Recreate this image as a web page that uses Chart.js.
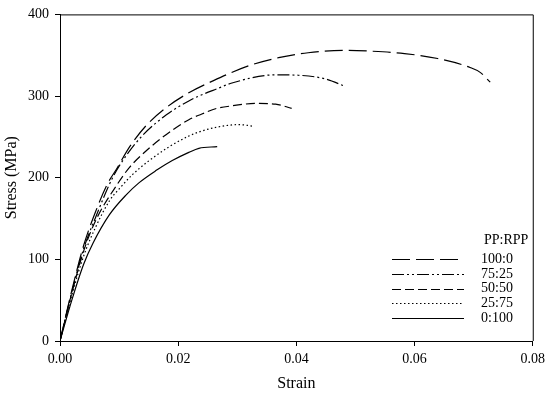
<!DOCTYPE html>
<html>
<head>
<meta charset="utf-8">
<script src="https://cdn.jsdelivr.net/npm/chart.js@4/dist/chart.umd.min.js"></script>
<style>
html,body{margin:0;padding:0;background:#fff;}
#wrap{width:550px;height:397px;position:relative;}
</style>
</head>
<body>
<div id="wrap"><canvas id="c" width="550" height="397"></canvas></div>
<script>
const seriesLabels = ["100:0", "75:25", "50:50", "25:75", "0:100"];
const legendTitle = "PP:RPP";
const xTicks = [0, 0.02, 0.04, 0.06, 0.08];
const yTicks = [0, 100, 200, 300, 400];

const strain100 = [0, 0.002, 0.004, 0.006, 0.008, 0.0096, 0.0118, 0.0146, 0.018, 0.0218, 0.0257, 0.0319, 0.037, 0.042, 0.0487, 0.0526, 0.0583, 0.0639, 0.0694, 0.0711, 0.0728];
const stress100 = [0, 62, 117, 158, 192, 211, 238, 264, 286, 304, 318, 337, 347, 353, 356, 355, 352, 346, 335, 329, 317];

const strain75 = [0, 0.002, 0.004, 0.006, 0.0089, 0.0113, 0.014, 0.018, 0.0218, 0.0235, 0.0266, 0.0291, 0.0365, 0.0403, 0.0449, 0.0482];
const stress75 = [0, 60, 113, 151, 200, 228, 252, 277, 294, 300, 309, 316, 326, 325.5, 321, 312];

const strain50 = [0, 0.002, 0.004, 0.006, 0.0097, 0.0118, 0.0146, 0.018, 0.0218, 0.024, 0.0266, 0.0291, 0.0331, 0.0365, 0.0392];
const stress50 = [0, 59, 110, 147, 192, 213, 233, 253, 271, 278, 285, 288, 291, 290, 285];

const strain25 = [0, 0.002, 0.004, 0.006, 0.0084, 0.0101, 0.0123, 0.0151, 0.0185, 0.0218, 0.0235, 0.0266, 0.0303, 0.0328];
const stress25 = [0, 56, 104, 139, 172, 187, 204, 221, 238, 251, 256, 262, 265, 263];

const strain0 = [0, 0.002, 0.004, 0.0056, 0.0084, 0.0112, 0.0134, 0.0163, 0.019, 0.0218, 0.0235, 0.0266];
const stress0 = [0, 50, 94, 120, 155, 179, 194, 209, 221, 231, 236, 238];

const strains = [strain100, strain75, strain50, strain25, strain0];
const stresses = [stress100, stress75, stress50, stress25, stress0];
const dashes = [[18, 6], [12, 3, 2, 3, 2, 3], [9, 4], [1.5, 2.5], []];

const FONT = "'Liberation Serif', 'Times New Roman', serif";

const datasets = seriesLabels.map((lab, i) => ({
  label: lab,
  data: strains[i].map((s, k) => ({x: s, y: stresses[i][k]})),
  borderColor: '#000',
  borderWidth: 1.2,
  borderDash: dashes[i],
  pointRadius: 0,
  fill: false,
  cubicInterpolationMode: 'monotone'
}));

const framePlugin = {
  id: 'frame',
  afterDatasetsDraw(chart) {
    const ctx = chart.ctx, a = chart.chartArea;
    ctx.save();
    ctx.strokeStyle = '#000';
    ctx.lineWidth = 1;
    ctx.beginPath();
    ctx.moveTo(a.left, a.top + 0.5);
    ctx.lineTo(a.right + 0.5, a.top + 0.5);
    ctx.lineTo(a.right + 0.5, a.bottom);
    ctx.stroke();
    // legend
    ctx.fillStyle = '#000';
    ctx.font = "14px " + FONT;
    ctx.textBaseline = 'middle';
    ctx.textAlign = 'left';
    ctx.fillText(legendTitle, 484, 240);
    const rows = [259, 274, 288.5, 303, 318];
    chart.data.datasets.forEach((ds, i) => {
      const y = Math.round(rows[i]) + 0.5;
      ctx.save();
      ctx.lineWidth = 1.2;
      ctx.setLineDash(ds.borderDash);
      ctx.beginPath();
      ctx.moveTo(392, y);
      ctx.lineTo(464, y);
      ctx.stroke();
      ctx.restore();
      ctx.fillText(ds.label, 481, rows[i]);
    });
    ctx.restore();
  }
};

new Chart(document.getElementById('c'), {
  type: 'line',
  data: {datasets},
  options: {
    responsive: false,
    animation: false,
    devicePixelRatio: 1,
    layout: {padding: {top: 8, right: 10, left: 0, bottom: 0}},
    plugins: {legend: {display: false}, tooltip: {enabled: false}},
    scales: {
      x: {
        type: 'linear',
        min: 0, max: 0.08,
        afterFit(s) { s.height = 56; },
        afterBuildTicks(s) { s.ticks = xTicks.map(v => ({value: v})); },
        grid: {drawOnChartArea: false, drawTicks: true, tickLength: 5, color: '#000', lineWidth: 1},
        border: {display: true, color: '#000', width: 1},
        ticks: {color: '#000', font: {family: FONT, size: 14}, padding: 5, maxRotation: 0,
          callback: v => Number(v).toFixed(2)},
        title: {display: true, text: 'Strain', color: '#000', font: {family: FONT, size: 16}, padding: {top: 0, bottom: 4}}
      },
      y: {
        type: 'linear',
        min: 0, max: 400,
        afterFit(s) { s.width = 60; },
        afterBuildTicks(s) { s.ticks = yTicks.map(v => ({value: v})); },
        grid: {drawOnChartArea: false, drawTicks: true, tickLength: 5, color: '#000', lineWidth: 1},
        border: {display: true, color: '#000', width: 1},
        ticks: {color: '#000', font: {family: FONT, size: 14}, padding: 6},
        title: {display: true, text: 'Stress (MPa)', color: '#000', font: {family: FONT, size: 16}, padding: {top: 2, bottom: 0}}
      }
    }
  },
  plugins: [framePlugin]
});
</script>
</body>
</html>
